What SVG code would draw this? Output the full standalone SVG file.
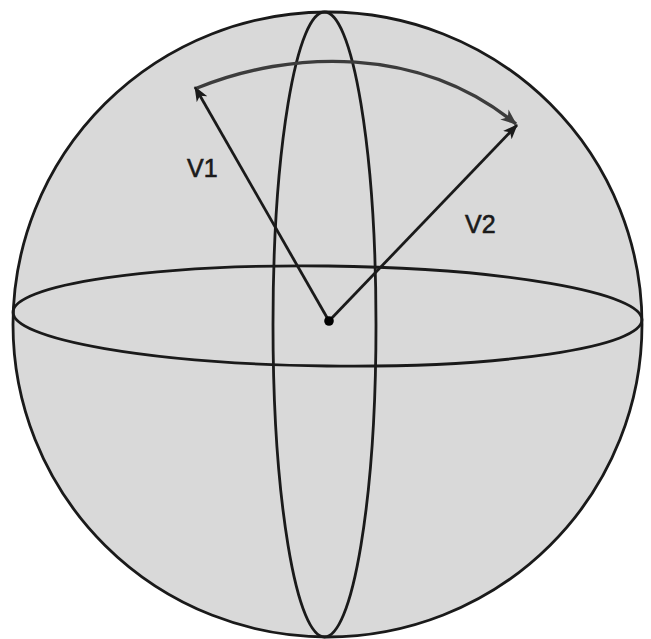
<svg xmlns="http://www.w3.org/2000/svg" width="651" height="639" viewBox="0 0 651 639">
<style>
.ln{fill:none;stroke:#1a1a1a;stroke-width:2.8}
.vec{fill:none;stroke:#1a1a1a;stroke-width:2.8}
.arc{fill:none;stroke:#3c3c3c;stroke-width:3.4}
.lbl{font-family:"Liberation Sans",Arial,sans-serif;font-size:25px;fill:#1a1a1a;stroke:#1a1a1a;stroke-width:0.6}
</style>
<defs>
<marker id="ah" viewBox="0 0 15 12" refX="14" refY="6" markerWidth="15" markerHeight="12" markerUnits="userSpaceOnUse" orient="auto">
<path d="M0,0 L15,6 L0,12 L4,6 Z" fill="#1a1a1a"/>
</marker>
<marker id="ah2" viewBox="0 0 16 13" refX="15" refY="6.5" markerWidth="16" markerHeight="13" markerUnits="userSpaceOnUse" orient="auto">
<path d="M0,0 L16,6.5 L0,13 L4.5,6.5 Z" fill="#3c3c3c"/>
</marker>
</defs>
<rect width="651" height="639" fill="#ffffff"/>
<g id="sphere">
<ellipse cx="327.5" cy="324.5" rx="314.5" ry="312.5" fill="#d9d9d9" stroke="#1a1a1a" stroke-width="2.8"/>
</g>
<g id="equator">
<ellipse class="ln" cx="327.5" cy="316" rx="314.5" ry="50" transform="rotate(0.7 327.5 316)"/>
</g>
<g id="meridian">
<ellipse class="ln" cx="324.5" cy="324.5" rx="51.5" ry="312.5"/>
</g>
<g id="connectors">
<line class="vec" x1="329" y1="321" x2="195" y2="87" marker-end="url(#ah)"/>
<line class="vec" x1="329" y1="321" x2="517" y2="125" marker-end="url(#ah)"/>
<path class="arc" d="M197,88 C290,50 420,45 516,124" marker-end="url(#ah2)"/>
</g>
<g id="center">
<circle cx="329" cy="321" r="4.8" fill="#000"/>
</g>
<g id="label-v1"><text class="lbl" x="187" y="177">V1</text></g>
<g id="label-v2"><text class="lbl" x="465" y="233">V2</text></g>
</svg>
